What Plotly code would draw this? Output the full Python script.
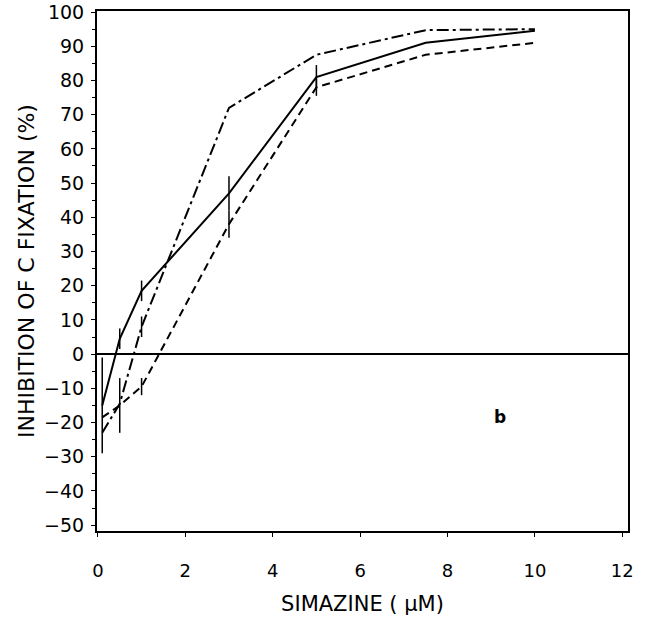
import plotly.graph_objects as go

# Data
conc = [0.1, 0.5, 1, 3, 5, 7.5, 10]

solid_y = [-15, 4.5, 18.5, 47, 81, 91, 94.5]
solid_err = [14, 3, 3, 5, 3.5, 0, 0]

dashdot_y = [-23, -14.5, 8, 72, 87.5, 94.7, 95]
dashdot_err = [0, 0, 3, 0, 0, 0, 0]

dashed_y = [-18.5, -15, -9.5, 38, 78, 87.5, 91]
dashed_err = [0, 8, 2.5, 4, 2.5, 0, 0]

x_ticks = [0, 2, 4, 6, 8, 10, 12]
y_ticks = [-50, -40, -30, -20, -10, 0, 10, 20, 30, 40, 50, 60, 70, 80, 90, 100]

FONT = "DejaVu Sans"

fig = go.Figure()

def add_series(y, err, dash):
    fig.add_trace(go.Scatter(
        x=conc, y=y, mode="lines",
        line=dict(color="black", width=2, dash=dash),
        error_y=dict(type="data", array=err, visible=True,
                     color="black", thickness=1.5, width=0),
        showlegend=False,
    ))

add_series(solid_y, solid_err, "solid")
add_series(dashdot_y, dashdot_err, "12px,4px,3px,4px")
add_series(dashed_y, dashed_err, "8px,5px")

fig.add_annotation(x=9.2, y=-18.5, text="<b>b</b>", showarrow=False,
                   font=dict(family=FONT, size=17, color="black"))

fig.update_layout(
    width=649, height=624,
    margin=dict(l=97, r=21, t=11, b=93),
    paper_bgcolor="white", plot_bgcolor="white",
    font=dict(family=FONT, size=15, color="black"),
    xaxis=dict(
        range=[-0.02, 12.13], tickvals=x_ticks,
        ticks="outside", ticklen=4, tickwidth=1, tickcolor="black",
        showline=True, linecolor="black", linewidth=2, mirror=True,
        showgrid=False, zeroline=False, automargin=False,
        ticklabelstandoff=18, ticklabeloverflow="allow",
        tickfont=dict(family=FONT, size=18),
        title=dict(text="SIMAZINE ( μM)", font=dict(family=FONT, size=21), standoff=17),
    ),
    yaxis=dict(
        range=[-51.7, 100.3], tickvals=y_ticks,
        ticks="outside", ticklen=4, tickwidth=1, tickcolor="black",
        minor=dict(dtick=5, tick0=0, ticks="outside", ticklen=3, tickcolor="black"),
        showline=True, linecolor="black", linewidth=2, mirror=True,
        showgrid=False, automargin=False,
        zeroline=True, zerolinecolor="black", zerolinewidth=2,
        ticklabelstandoff=3, ticklabeloverflow="allow",
        tickfont=dict(family=FONT, size=19),
        title=dict(text="INHIBITION OF C FIXATION (%)", font=dict(family=FONT, size=22), standoff=3),
    ),
)

# remove the page's default 8px body margin so the figure fills the window
fig.write_html("out.html", config={"displayModeBar": False},
               post_script="document.body.style.margin='0';")
